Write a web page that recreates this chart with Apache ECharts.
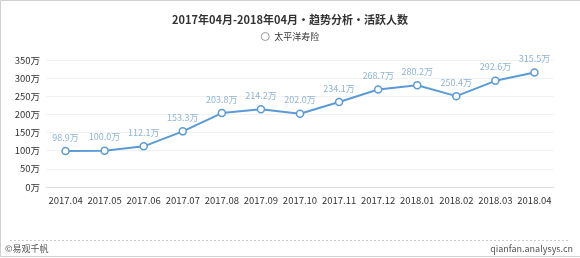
<!DOCTYPE html>
<html><head><meta charset="utf-8">
<script src="https://cdn.jsdelivr.net/npm/echarts@6/dist/echarts.min.js"></script>
<style>html,body{margin:0;padding:0;background:#fff;}#c{width:580px;height:258px;}</style>
</head><body><div id="c"></div>
<script>
const categories = ['2017.04','2017.05','2017.06','2017.07','2017.08','2017.09','2017.10','2017.11','2017.12','2018.01','2018.02','2018.03','2018.04'];
const values = [98.9,100.0,112.1,153.3,203.8,214.2,202.0,234.1,268.7,280.2,250.4,292.6,315.5];
const seriesName = '太平洋寿险';
const titleText = '2017年04月-2018年04月・趋势分析・活跃人数';
const font = '"Noto Sans CJK SC", "Noto Sans", sans-serif';
const chart = echarts.init(document.getElementById('c'));
chart.setOption({
  animation: false,
  title: {text: titleText, left: 'center', top: 9,
    textStyle: {fontSize: 11, fontWeight: 'bold', color: '#333', fontFamily: font}},
  legend: {top: 27, left: 'center', itemWidth: 8, itemHeight: 8, itemGap: 4,
    data: [{name: seriesName, icon: 'circle',
      itemStyle: {color: '#fff', borderColor: '#999', borderWidth: 1}}],
    textStyle: {fontSize: 9, color: '#333', fontFamily: font}},
  grid: {left: 46, right: 26, top: 60, bottom: 71},
  xAxis: {type: 'category', data: categories, boundaryGap: true,
    axisLine: {lineStyle: {color: '#ddd'}},
    axisTick: {lineStyle: {color: '#ddd'}, length: 4},
    axisLabel: {color: '#333', fontSize: 9.5, margin: 9, interval: 0, fontFamily: font}},
  yAxis: {type: 'value', min: 0, max: 350, interval: 50,
    axisLine: {show: false}, axisTick: {show: false},
    splitLine: {lineStyle: {color: '#f2f2f2'}},
    axisLabel: {color: '#333', fontSize: 9.5, margin: 6, formatter: '{value}万', fontFamily: font}},
  series: [{
    name: seriesName, type: 'line', data: values,
    symbol: 'circle', symbolSize: 7,
    itemStyle: {color: '#fff', borderColor: '#5b9bd5', borderWidth: 1.5},
    lineStyle: {color: '#5b9bd5', width: 2},
    label: {show: true, position: 'top', distance: 5, color: '#8fb3d6', fontSize: 9,
      formatter: p => p.value.toFixed(1) + '万', fontFamily: font}
  }],
  graphic: [
    {type: 'line', shape: {x1: 10, y1: 240.5, x2: 570, y2: 240.5}, style: {stroke: '#ccc', lineDash: [2, 2], lineWidth: 1}},
    {type: 'text', left: 5, top: 244, style: {text: '©易观千帆', fontSize: 9, fill: '#555', fontFamily: font}},
    {type: 'text', right: 7, top: 244, style: {text: 'qianfan.analysys.cn', fontSize: 9, fill: '#555', fontFamily: font}},
    {type: 'rect', shape: {x: 0.5, y: 0.5, width: 600, height: 256}, style: {fill: 'none', stroke: '#d0d0d0', lineWidth: 1}}
  ]
});
</script></body></html>
